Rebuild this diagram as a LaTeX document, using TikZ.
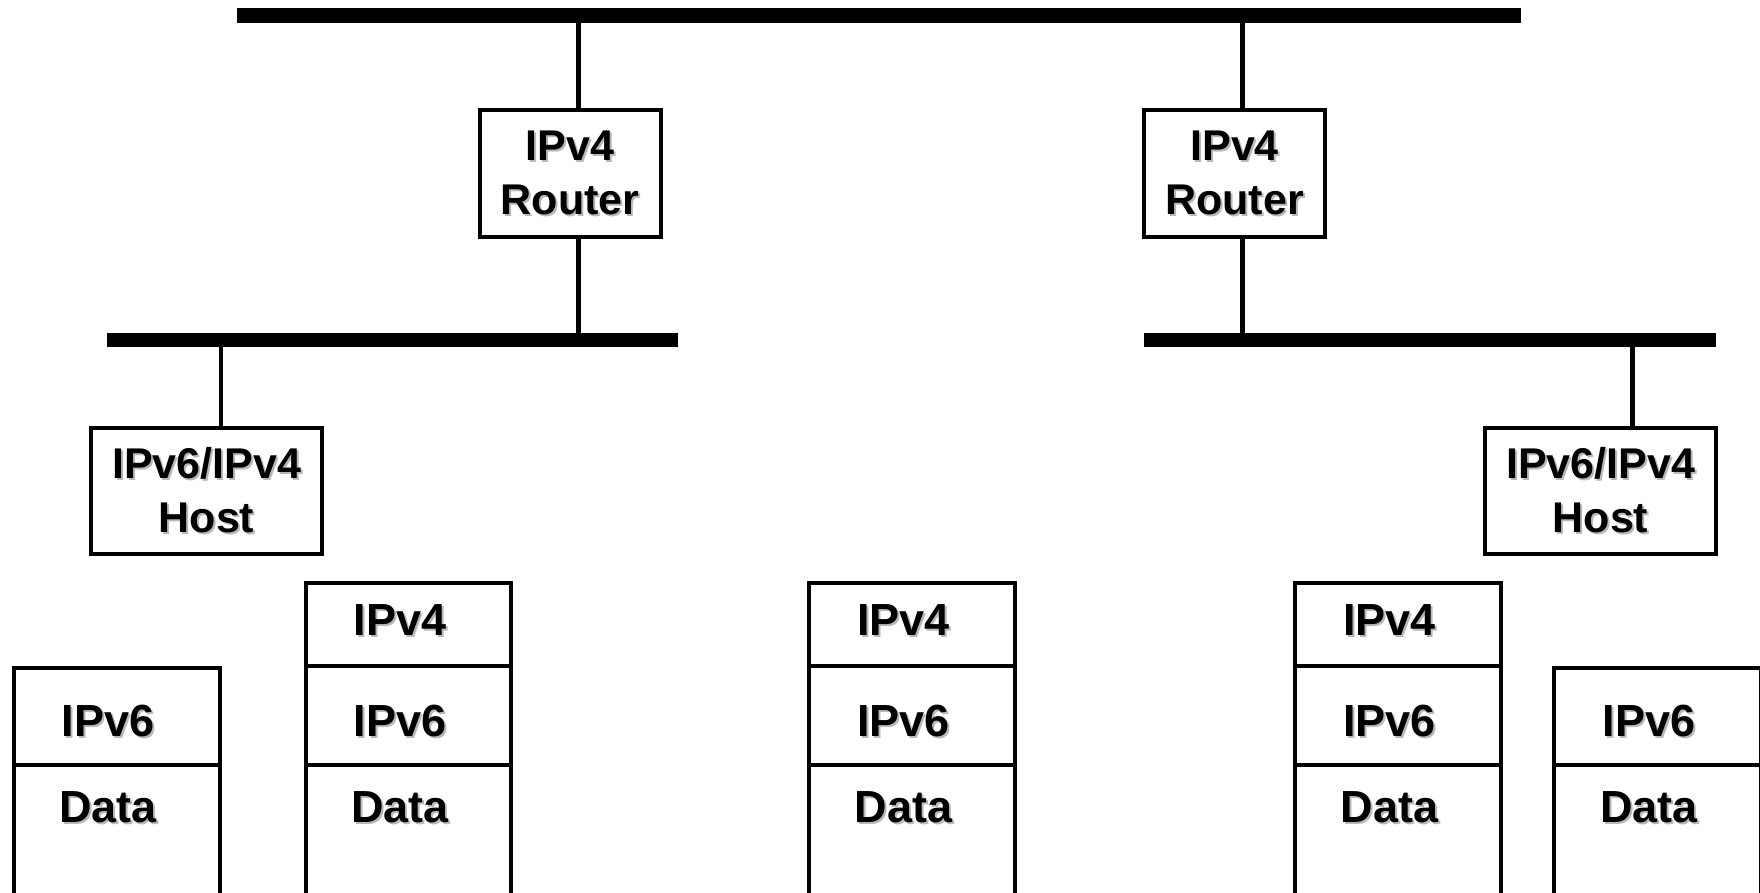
\documentclass[tikz,border=0pt]{standalone}
\usepackage{fontspec}
\setmainfont{Liberation Sans}
\definecolor{shadowgray}{gray}{0.72}
\newcommand\shd[1]{\leavevmode\rlap{\kern1pt\raisebox{-1pt}{\textcolor{shadowgray}{#1}}}#1}
\begin{document}
\begin{tikzpicture}[x=0.5pt,y=-0.5pt,
  lbl/.style={font=\fontsize{21.5}{27}\selectfont\bfseries, inner sep=0pt, align=center},
  slbl/.style={font=\fontsize{22.5}{27}\selectfont\bfseries, inner sep=0pt, anchor=base},
  box/.style={draw, line width=2pt, fill=white, inner sep=0pt, lbl},
  bus/.style={fill=black, inner sep=0pt, minimum height=7.2pt},
  conn/.style={line width=2.4pt},
  stk/.style={line width=2pt}]
\useasboundingbox (0,0) rectangle (1760,893);
\clip (0,0) rectangle (1760,893);

% attachment points of the connectors
\coordinate (c1) at (578.3,0);
\coordinate (c2) at (1242.5,0);
\coordinate (c3) at (221,0);
\coordinate (c4) at (1632.3,0);

% routers and hosts
\node[box, minimum width=90.5pt, minimum height=63.5pt] (r1) at (570.2,173.5) {\shd{IPv4}\\\shd{Router}};
\node[box, minimum width=90.5pt, minimum height=63.5pt] (r2) at (1234.6,173.5) {\shd{IPv4}\\\shd{Router}};
\node[box, minimum width=115.3pt, minimum height=63.3pt] (h1) at (206.5,491) {\shd{IPv6/IPv4}\\\shd{Host}};
\node[box, minimum width=115.3pt, minimum height=63.3pt] (h2) at (1600.5,491) {\shd{IPv6/IPv4}\\\shd{Host}};

% buses
\node[bus, minimum width=642pt] (bus0) at (879,15.5) {};
\node[bus, minimum width=285.7pt] (bus1) at (392.3,340) {};
\node[bus, minimum width=286.2pt] (bus2) at (1429.9,340) {};

% connectors
\draw[conn] (bus0.center -| c1) -- (r1.north -| c1);
\draw[conn] (r1.south -| c1) -- (bus1.center -| c1);
\draw[conn] (bus0.center -| c2) -- (r2.north -| c2);
\draw[conn] (r2.south -| c2) -- (bus2.center -| c2);
\draw[conn] (bus1.center -| c3) -- (h1.north -| c3);
\draw[conn] (bus2.center -| c4) -- (h2.north -| c4);

% tall packet stacks: IPv4 / IPv6 / Data
\foreach \n/\l/\r in {b/306/511, c/809/1015, d/1294.6/1501}{
  \draw[stk] (\l,583) rectangle (\r,900);
  \draw[stk] (\l,665.5) -- (\r,665.5);
  \draw[stk] (\l,765.2) -- (\r,765.2);
  \node[slbl] (\n-v4) at ({(\l+\r)/2-8.5},635) {\shd{IPv4}};
  \node[slbl] (\n-v6) at ({(\l+\r)/2-8.5},736) {\shd{IPv6}};
  \node[slbl] (\n-data) at ({(\l+\r)/2-8.5},822.5) {\shd{Data}};
}
% short packet stacks: IPv6 / Data
\foreach \n/\l/\r in {a/13.5/220, e/1554.2/1760.7}{
  \draw[stk] (\l,668) rectangle (\r,900);
  \draw[stk] (\l,765.2) -- (\r,765.2);
  \node[slbl] (\n-v6) at ({(\l+\r)/2-8.5},736.5) {\shd{IPv6}};
  \node[slbl] (\n-data) at ({(\l+\r)/2-8.5},822.5) {\shd{Data}};
}
\end{tikzpicture}
\end{document}
